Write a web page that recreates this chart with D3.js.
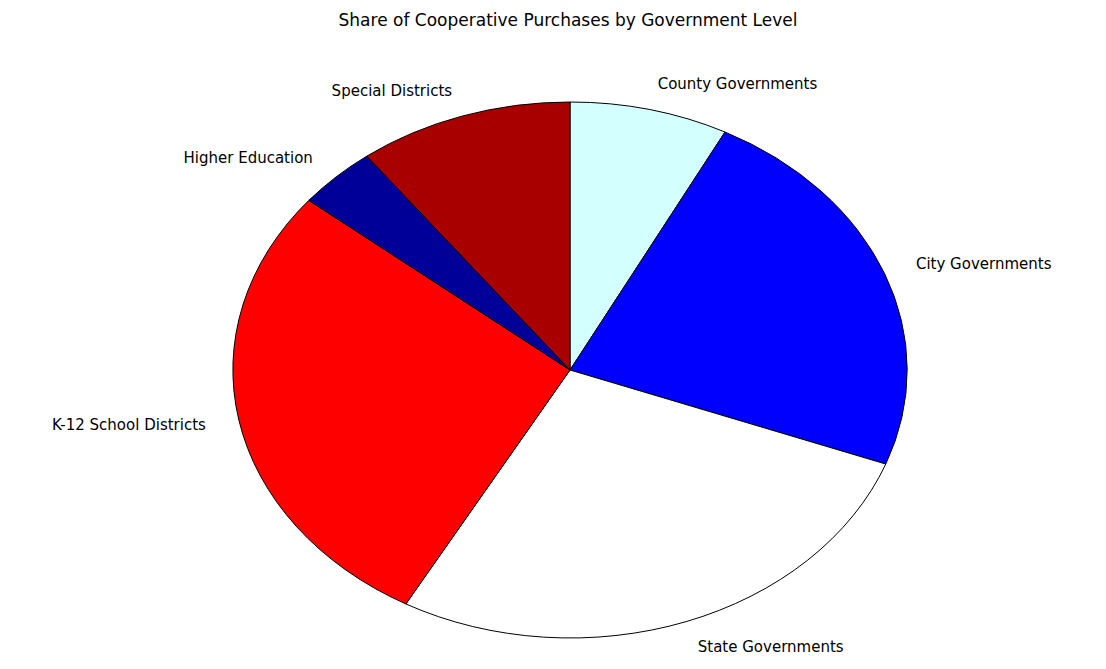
<!DOCTYPE html>
<html>
<head>
<meta charset="utf-8">
<script src="https://cdn.jsdelivr.net/npm/d3@7"></script>
<style>
  body { margin: 0; background: #fff; }
  text { font-family: "DejaVu Sans", sans-serif; }
</style>
</head>
<body>
<svg width="1106" height="669"></svg>
<script>
var categories = ["County Governments", "City Governments", "State Governments",
  "K-12 School Districts", "Higher Education", "Special Districts"];
var values = [7.6, 23.1, 27.4, 27.8, 3.8, 10.3];
var colors = ["#d4ffff", "#0000ff", "#ffffff", "#ff0000", "#000099", "#a80000"];

var svg = d3.select("svg"),
  cx = 570, cy = 370,
  rx = 337, ry = 268;

svg.append("text")
  .attr("x", 568)
  .attr("y", 26)
  .attr("text-anchor", "middle")
  .attr("font-size", "17px")
  .text("Share of Cooperative Purchases by Government Level");

var pie = d3.pie().sort(null).value(function (d) { return d; });
var arcs = pie(values);
var arc = d3.arc().innerRadius(0).outerRadius(1);

var g = svg.append("g")
  .attr("transform", "translate(" + cx + "," + cy + ") scale(" + rx + "," + ry + ")");

g.selectAll("path")
  .data(arcs)
  .enter()
  .append("path")
  .attr("d", arc)
  .attr("fill", function (d, i) { return colors[i]; })
  .attr("stroke", "#000")
  .attr("stroke-width", 1)
  .attr("vector-effect", "non-scaling-stroke");

svg.selectAll(".lbl")
  .data(arcs)
  .enter()
  .append("text")
  .attr("class", "lbl")
  .attr("font-size", "15px")
  .attr("dy", "0.35em")
  .attr("x", function (d) {
    var a = (d.startAngle + d.endAngle) / 2;
    return cx + rx * 1.1 * Math.sin(a);
  })
  .attr("y", function (d) {
    var a = (d.startAngle + d.endAngle) / 2;
    return cy - ry * 1.1 * Math.cos(a);
  })
  .attr("text-anchor", function (d) {
    var a = (d.startAngle + d.endAngle) / 2;
    return Math.sin(a) >= 0 ? "start" : "end";
  })
  .text(function (d, i) { return categories[i]; });
</script>
</body>
</html>
